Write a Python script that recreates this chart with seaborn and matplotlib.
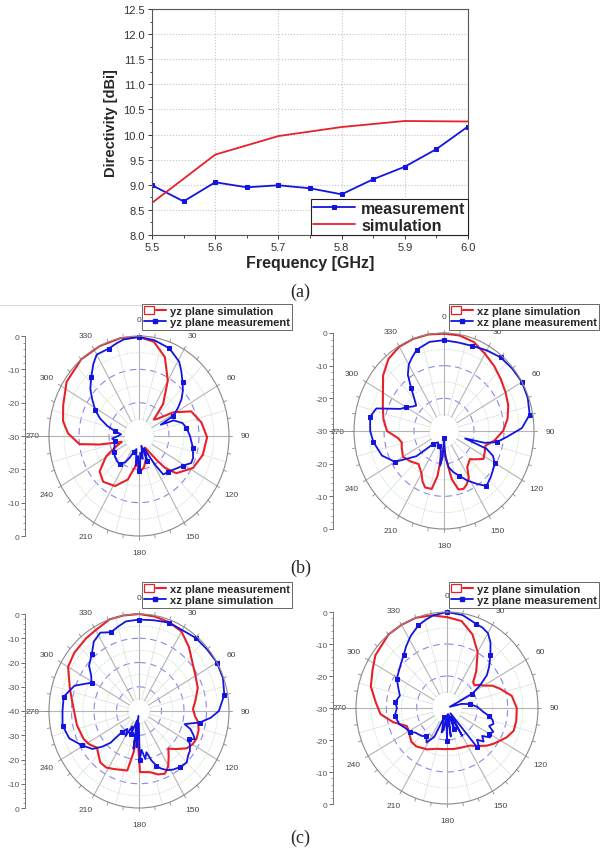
import numpy as np
import matplotlib
matplotlib.use('Agg')
import matplotlib.pyplot as plt
import seaborn as sns
from matplotlib.lines import Line2D
from matplotlib.patches import Patch
from matplotlib.legend_handler import HandlerTuple
from matplotlib.ticker import MultipleLocator

# ── (a) directivity vs frequency
freq_meas = [5.50, 5.55, 5.60, 5.65, 5.70, 5.75, 5.80, 5.85, 5.90, 5.95, 6.00]
dir_meas = [8.99, 8.67, 9.05, 8.95, 8.99, 8.93, 8.81, 9.11, 9.36, 9.71, 10.16]
freq_sim = [5.5, 5.6, 5.7, 5.8, 5.9, 6.0]
dir_sim = [8.64, 9.60, 9.97, 10.15, 10.27, 10.26]

# ── (b) left: yz plane
b_yz_sim_ang = [0, 10, 20, 30, 40, 45, 50, 58, 67, 79, 91, 105, 118, 132, 138, 141, 150, 160, 170, 180, 185,
                189, 196, 208, 221, 231, 241, 248, 253, 259, 263, 272, 280, 290, 304, 320, 334, 348, 360]
b_yz_sim_db = [-0.3, -1.3, -4.8, -10.8, -17.5, -23, -22, -16.6, -11.1, -8.8, -7.3, -8.0, -9.6, -13.3, -17.2,
               -21, -26, -23, -20.5, -19, -22, -20.3, -16.4, -13, -11.8, -13.1, -17.5, -21.9, -24, -16.6,
               -10, -6.3, -4.3, -3.1, -0.9, 0, 0, 0, -0.3]
b_yz_meas_ang = [0, 10, 21, 31, 36, 42, 47, 52, 57, 62, 65, 68, 75, 81, 90, 101, 110, 115, 121, 127, 132, 138,
                 145, 148, 152, 155, 160, 165, 170, 175, 178, 180, 183, 187, 192, 200, 205, 210, 217, 225, 233,
                 240, 246, 253, 260, 265, 270, 275, 280, 286, 292, 298, 305, 311, 318, 325, 330, 339, 345, 350, 360]
b_yz_meas_db = [-0.3, -0.8, -1.8, -4, -6, -8.3, -10, -12, -14.5, -17, -22, -17.5, -15, -14, -13, -11.7, -10.8,
                -10.8, -12.8, -14, -14.8, -15.5, -15.9, -19.7, -24, -26, -22, -27, -23, -25, -20, -19.5, -24,
                -21, -26, -25, -23, -21, -19.3, -19.5, -19.9, -20.5, -21, -21.5, -22, -21, -23, -24, -22, -19,
                -16, -13.5, -11, -8.5, -6.2, -3.5, -1.8, -1.9, -1.2, -0.6, -0.3]

# ── (b) right: xz plane
b_xz_sim_ang = [0, 10, 20, 30, 40, 50, 60, 70, 80, 90, 100, 108, 115, 123, 130, 135, 145, 150, 155, 160, 165,
                170, 175, 180, 185, 189, 193, 200, 205, 210, 220, 230, 240, 250, 256, 262, 270, 280, 290, 300,
                310, 320, 330, 340, 350, 360]
b_xz_sim_db = [-0.2, -0.3, -1, -2.7, -4, -5.3, -6.3, -7.2, -8.5, -10.3, -13, -15.5, -15, -14.3, -16.5, -17.8,
               -16.5, -13.5, -12, -11.1, -11.5, -15, -21, -25, -24, -16, -11.8, -11.6, -13, -15, -16.8, -15.5,
               -14.2, -15, -15.5, -14.5, -11, -9.5, -8.3, -6.5, -3.5, -1.2, -0.2, 0, 0, -0.2]
b_xz_meas_ang = [0, 10, 20, 30, 40, 50, 60, 70, 80, 88, 95, 101, 105, 108, 111, 115, 120, 125, 132, 140, 146,
                 153, 160, 166, 172, 177, 180, 183, 187, 190, 200, 210, 222, 230, 240, 250, 262, 270, 280, 287,
                 290, 295, 300, 305, 310, 315, 320, 325, 330, 335, 340, 350, 360]
b_xz_meas_db = [-2.2, -2.5, -2.3, -1.5, -0.6, -0.3, 0, -0.3, -1, -4, -9, -12.1, -16, -22.6, -14.8, -12, -10.5,
                -9.9, -9, -8, -10.5, -13, -15.5, -17, -18.8, -22.4, -28, -22, -19.3, -24, -25, -26, -24.7, -18,
                -11.1, -8, -6.2, -5.4, -5, -6.4, -10, -14, -15.4, -17, -17.9, -16, -13, -9, -6.5, -5, -3.5,
                -2.3, -2.2]

# ── (c) left: xz plane (red = measurement, blue = simulation)
c_xz_meas_ang = [0, 10, 20, 30, 40, 50, 60, 70, 80, 88, 95, 100, 107, 114, 120, 126, 133, 140, 145, 150, 152,
                 156, 162, 169, 179, 181, 185, 188, 192, 205, 212, 219, 225, 231, 238, 245, 258, 272, 286, 300,
                 310, 322, 330, 341, 350, 360]
c_xz_meas_db = [0, -0.4, -1, -2.2, -5.5, -9, -11, -12.2, -14.5, -16, -15, -13.3, -12.3, -12, -12.5, -13.8, -17,
                -19.7, -17, -14, -13.2, -11.7, -12.5, -14.3, -14.8, -24.4, -30, -22.8, -14.9, -13.6, -12.5,
                -12.7, -14.5, -16, -14, -12.8, -11.8, -10.9, -8.1, -3.6, -2.5, -1.9, -1.5, 0, 0, 0]
c_xz_sim_ang = [0, 10, 20, 30, 40, 50, 60, 70, 80, 90, 95, 100, 103, 105, 108, 112, 115, 118, 122, 126, 130,
                135, 142, 148, 153, 158, 161, 165, 169, 172, 176, 179, 181, 184, 187, 189, 193, 200, 205, 210,
                215, 221, 224, 228, 233, 241, 250, 260, 270, 280, 290, 299, 305, 310, 318, 325, 332, 339, 345,
                351, 360]
c_xz_sim_db = [-2.3, -2.0, -1.2, -1.5, -0.7, -0.5, 0, -0.3, -1.5, -4.5, -8, -12.6, -17, -19, -16, -14, -12.6,
               -15, -13.3, -12, -11.5, -10, -10.6, -11.5, -12.6, -14.5, -16.2, -19, -22.7, -20, -24, -19.6, -35,
               -25, -38, -24.2, -36, -30, -33, -28, -31, -28.4, -21.8, -18, -14, -10.9, -7, -5.5, -6, -6, -9.5,
               -15.9, -14, -11, -8.6, -5, -3.4, -5.2, -4, -2.6, -2.3]

# ── (c) right: yz plane
c_yz_sim_ang = [0, 10, 20, 30, 40, 47, 52, 56, 60, 65, 71, 80, 90, 100, 108, 115, 120, 126, 132, 140, 147, 160,
                170, 185, 195, 207, 220, 228, 235, 240, 247, 256, 265, 274, 285, 296, 305, 320, 330, 340, 350, 360]
c_yz_sim_db = [-1.6, -2.4, -5.5, -9.8, -15, -18.2, -18.5, -17, -16, -13.5, -11.5, -8.3, -7, -6.8, -6.9, -8.3,
               -9.7, -11, -12.4, -14.5, -16, -16.8, -17, -17.1, -16.8, -15.5, -14.3, -14.2, -15, -15.5, -15.6,
               -11.7, -8, -6.5, -4, -2.7, -1.2, 0, 0, 0, -0.6, -1.6]
c_yz_meas_ang = [0, 10, 20, 25, 30, 35, 41, 47, 52, 57, 62, 68, 75, 81, 88, 96, 100, 104, 108, 112, 116, 120,
                 123, 127, 131, 135, 138, 141, 145, 150, 155, 160, 166, 172, 176, 180, 184, 189, 193, 198, 205,
                 212, 218, 223, 229, 234, 238, 245, 252, 262, 270, 276, 284, 290, 299, 305, 312, 319, 325, 332,
                 340, 346, 351, 360]
c_yz_meas_db = [0, -0.5, -2, -2.3, -3, -5, -8.2, -11, -13.3, -17, -20.6, -29, -25, -22.3, -20, -17.9, -16, -14.5,
                -13.9, -15, -13, -14, -13.1, -15.5, -14, -16, -14.5, -14.3, -28, -20, -27, -23, -28, -21, -28,
                -19.8, -27, -23, -22.2, -27, -20, -17.3, -19, -18, -17.5, -17, -15.6, -15, -13.5, -12.6, -13.5,
                -12.8, -14, -13, -11.1, -10.5, -9.5, -8.2, -6.5, -4.5, -2.5, -1.5, -0.7, 0]

sns.set_theme(context='paper', style='ticks')
plt.rcParams['font.family'] = ['Liberation Sans', 'DejaVu Sans']

W, H = 601, 854
RED = '#e8202a'
BLUE = '#1414e0'
fig = plt.figure(figsize=(W / 100, H / 100), dpi=100)


def fbox(x0, y0, x1, y1):
    # pixel box (top-left origin) -> figure fraction
    return [x0 / W, 1 - y1 / H, (x1 - x0) / W, (y1 - y0) / H]


# ─────────────────────────────────────────
# (a) line chart
# ─────────────────────────────────────────
ax = fig.add_axes(fbox(152, 10, 468, 236))
sns.lineplot(x=freq_meas, y=dir_meas, ax=ax, color=BLUE, lw=1.3, marker='s', markersize=3.5,
             markeredgecolor=BLUE, label='measurement')
sns.lineplot(x=freq_sim, y=dir_sim, ax=ax, color=RED, lw=1.3, label='simulation')
ax.set_xlim(5.5, 6.0)
ax.set_ylim(8.0, 12.5)
ax.set_xticks(np.arange(5.5, 6.01, 0.1))
ax.set_yticks(np.arange(8.0, 12.51, 0.5))
ax.xaxis.set_major_formatter('{x:.1f}')
ax.yaxis.set_major_formatter('{x:.1f}')
ax.yaxis.set_minor_locator(MultipleLocator(0.25))
ax.xaxis.set_minor_locator(MultipleLocator(0.05))
ax.grid(True, which='major', color='#c4c4c4', linestyle=':', lw=0.8)
ax.tick_params(which='major', labelsize=8, length=3, width=0.7, pad=2, colors='#333')
ax.tick_params(which='minor', length=1.8, width=0.6)
for s in ax.spines.values():
    s.set_color('#555')
    s.set_linewidth(0.8)
ax.set_xlabel('Frequency [GHz]', fontsize=11.5, fontweight='bold', labelpad=2)
ax.set_ylabel('Directivity [dBi]', fontsize=10.5, fontweight='bold', labelpad=4)
leg = ax.legend(loc='lower right', borderaxespad=0, fancybox=False, framealpha=1, edgecolor='#222',
                prop={'weight': 'bold', 'size': 11.5}, handlelength=2.6, borderpad=0.15, labelspacing=0.1,
                handletextpad=0.4)
leg.get_frame().set_linewidth(0.8)
fig.text(0.5, 1 - 292 / H, '(a)', ha='center', va='center', family='Liberation Serif', fontsize=13)


# ─────────────────────────────────────────
# polar panels
# ─────────────────────────────────────────
def polar_panel(cx, cy, rx, ry, axis_x, rng, red, blue, labels, leg_xy):
    pax = fig.add_axes(fbox(cx - rx, cy - ry, cx + rx, cy + ry), projection='polar')
    pax.set_aspect('auto')
    pax.set_theta_zero_location('N')
    pax.set_theta_direction(-1)
    pax.set_thetagrids(range(0, 360, 30), [str(a) for a in range(0, 360, 30)])
    pax.tick_params(axis='x', labelsize=6, colors='#444', pad=0)
    pax.set_yticks([])
    pax.grid(False)
    pax.spines['polar'].set_color('#8a8a8a')
    pax.spines['polar'].set_linewidth(0.8)

    th = np.linspace(0, 2 * np.pi, 361)
    for r in np.arange(-rng + 5, 0, 5):
        if r % 10 == 0:
            pax.plot(th, np.full_like(th, r), color='#8888e8', lw=0.8, ls=(0, (6, 4)))
        else:
            pax.plot(th, np.full_like(th, r), color='#9ee09e', lw=0.6, ls=':')
    for a in range(0, 360, 15):
        t = np.deg2rad(a)
        major = a % 30 == 0
        pax.plot([t, t], [-rng + 5, 0], color='#b4b4b4' if major else '#dcdcdc',
                 lw=0.8 if major else 0.5)
    for a in range(0, 360, 10):
        t = np.deg2rad(a)
        pax.plot([t, t], [0, rng * 0.035], color='#8a8a8a', lw=0.6, clip_on=False)

    sns.lineplot(x=np.deg2rad(red[0]), y=red[1], ax=pax, sort=False, estimator=None,
                 color=RED, lw=1.5, clip_on=False)
    bang = np.asarray(blue[0])
    marks = sorted({int(np.argmin(np.abs(bang - m))) for m in range(0, 360, 20)})
    sns.lineplot(x=np.deg2rad(blue[0]), y=blue[1], ax=pax, sort=False, estimator=None,
                 color=BLUE, lw=1.3, marker='s', markersize=3.2, markeredgecolor=BLUE,
                 markevery=marks, clip_on=False)
    pax.set_xlabel('')
    pax.set_ylabel('')
    pax.set_ylim(-rng, 0)

    # linear dB scale on the left
    lax = fig.add_axes(fbox(axis_x, cy - ry, axis_x + 2, cy + ry))
    lax.patch.set_visible(False)
    for s in ['top', 'right', 'bottom']:
        lax.spines[s].set_visible(False)
    lax.spines['left'].set_color('#777')
    lax.spines['left'].set_linewidth(0.7)
    lax.set_xticks([])
    lax.set_ylim(-rng, rng)
    ticks = np.arange(-rng, rng + 1, 10)
    lax.set_yticks(ticks)
    lax.set_yticklabels([str(int(abs(t) - rng)) for t in ticks])
    lax.yaxis.set_minor_locator(MultipleLocator(2))
    lax.tick_params(axis='y', which='major', labelsize=6, colors='#555', length=3, width=0.6, pad=1)
    lax.tick_params(axis='y', which='minor', colors='#777', length=1.5, width=0.5)
    fig.add_artist(Line2D([axis_x / W, (cx - rx) / W], [1 - cy / H] * 2, color='#8a8a8a', lw=0.6))

    red_h = (Patch(facecolor='white', edgecolor=RED, lw=0.9), Line2D([], [], color=RED, lw=1.5))
    blue_h = Line2D([], [], color=BLUE, lw=1.3, marker='s', markersize=3)
    lg = fig.legend([red_h, blue_h], labels, loc='upper left',
                    bbox_to_anchor=(leg_xy[0] / W, 1 - leg_xy[1] / H),
                    handler_map={tuple: HandlerTuple(ndivide=None)},
                    prop={'weight': 'bold', 'size': 8}, fancybox=False, framealpha=1,
                    edgecolor='#666', borderpad=0.2, labelspacing=0.1, handlelength=2.0,
                    handletextpad=0.3, borderaxespad=0)
    lg.get_frame().set_linewidth(0.7)
    lg.set_zorder(5)


polar_panel(139, 437, 90, 100, 25, 30, (b_yz_sim_ang, b_yz_sim_db), (b_yz_meas_ang, b_yz_meas_db),
            ['yz plane simulation', 'yz plane measurement'], (142, 305))
polar_panel(444, 432, 90, 98, 333, 30, (b_xz_sim_ang, b_xz_sim_db), (b_xz_meas_ang, b_xz_meas_db),
            ['xz plane simulation', 'xz plane measurement'], (449, 305))
polar_panel(139, 712, 90, 97, 25, 40, (c_xz_meas_ang, c_xz_meas_db), (c_xz_sim_ang, c_xz_sim_db),
            ['xz plane measurement', 'xz plane simulation'], (142, 583))
polar_panel(447, 709, 91, 96, 333, 30, (c_yz_sim_ang, c_yz_sim_db), (c_yz_meas_ang, c_yz_meas_db),
            ['yz plane simulation', 'yz plane measurement'], (449, 583))

fig.add_artist(Line2D([0, 142 / W], [1 - 306 / H] * 2, color='#d0d0d0', lw=0.6))
fig.text(0.5, 1 - 568 / H, '(b)', ha='center', va='center', family='Liberation Serif', fontsize=13)
fig.text(0.5, 1 - 838 / H, '(c)', ha='center', va='center', family='Liberation Serif', fontsize=13)

fig.savefig('out.png', dpi=100, facecolor='white')
